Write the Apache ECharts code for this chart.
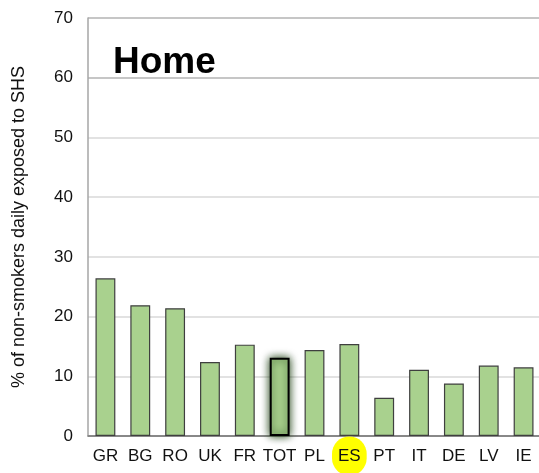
<!DOCTYPE html>
<html>
<head>
<meta charset="utf-8">
<script src="https://cdn.jsdelivr.net/npm/echarts@6/dist/echarts.min.js"></script>
<style>html,body{margin:0;padding:0;background:#fff}#c{width:539px;height:473px}</style>
</head>
<body>
<div id="c"></div>
<script>
const categories = ['GR','BG','RO','UK','FR','TOT','PL','ES','PT','IT','DE','LV','IE'];
const values = [26.4, 21.9, 21.4, 12.4, 15.3, 13.1, 14.4, 15.4, 6.4, 11.1, 8.8, 11.8, 11.5];
const yTicks = [0,10,20,30,40,50,60,70];
const highlightBar = 'TOT';
const highlightLabel = 'ES';

const chart = echarts.init(document.getElementById('c'), null, {renderer:'canvas'});
const font = 'Liberation Sans, Arial, sans-serif';
chart.setOption({
  animation:false,
  title:{text:'Home', left:108, top:39, textStyle:{fontFamily:font, fontSize:37, fontWeight:'bold', color:'#000'}},
  grid:{left:88, right:-2, top:18, bottom:37, containLabel:false, outerBoundsMode:'none'},
  xAxis:{
    type:'category', data:categories,
    axisTick:{show:false},
    axisLine:{lineStyle:{color:'#808080', width:1.5}},
    axisLabel:{
      fontFamily:font, fontSize:17, color:'#111', margin:20, interval:0, verticalAlign:'middle',
      formatter:(v)=> v===highlightLabel ? '{hl|'+v+'}' : v,
      rich:{hl:{backgroundColor:'#ffff00', borderRadius:20, padding:[11,6,11,6], fontFamily:font, fontSize:17, color:'#111'}}
    }
  },
  yAxis:{
    type:'value', min:yTicks[0], max:yTicks[yTicks.length-1], interval:10,
    name:'% of non-smokers daily exposed to SHS', nameLocation:'middle', nameGap:60,
    nameTextStyle:{fontFamily:font, fontSize:18, color:'#111'},
    axisLine:{show:true, lineStyle:{color:'#a6a6a6', width:1.5}},
    axisTick:{show:false},
    axisLabel:{fontFamily:font, fontSize:17, color:'#111', margin:15},
    splitLine:{lineStyle:{color:['#808080','#d9d9d9','#d9d9d9','#d9d9d9','#d9d9d9','#d9d9d9','#b3b3b3','#b3b3b3'], width:1.5}}
  },
  series:[{
    type:'bar', barWidth:'57%',
    data: values.map((v,i)=> categories[i]===highlightBar ?
      {value:v, itemStyle:{color:'#a9d18e', borderColor:'#000', borderWidth:2, shadowBlur:9, shadowColor:'rgba(20,55,8,1)'}} :
      {value:v}),
    itemStyle:{color:'#a9d18e', borderColor:'#3f3f3f', borderWidth:1.2}
  }]
});
</script>
</body>
</html>
